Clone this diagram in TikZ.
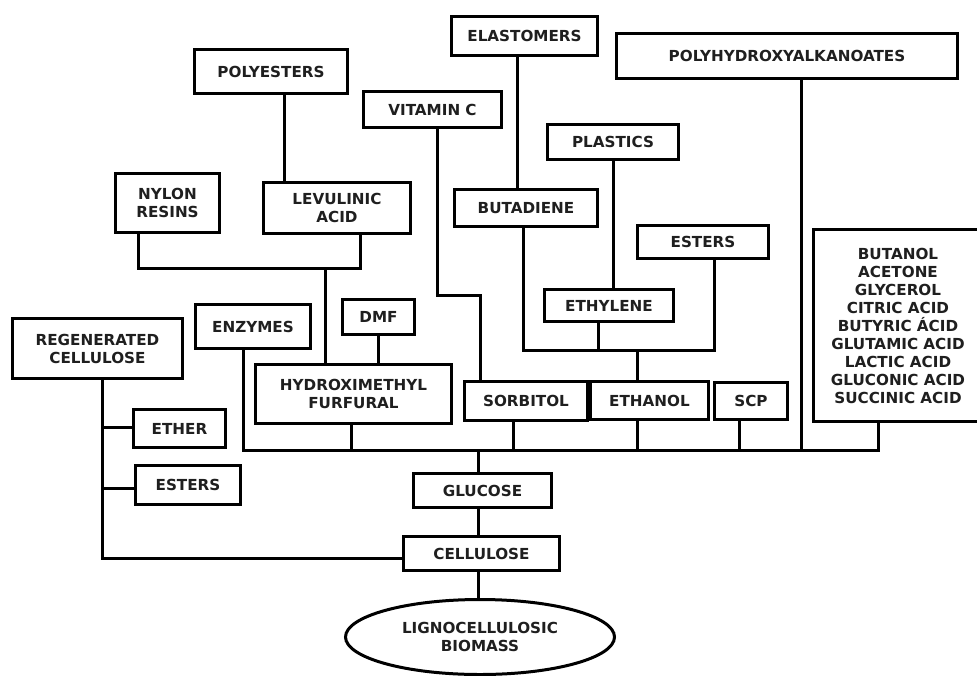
\documentclass[tikz,border=0pt]{standalone}
\usepackage{fontspec}
\setmainfont{DejaVu Sans}
\usetikzlibrary{shapes.geometric}
\newcommand\bxnode[6]{\node[box,minimum width={#4-#2-3},minimum height={#5-#3-3}] (#1) at ({(#2+#4)/2},{(#3+#5)/2}) {#6};}
\tikzset{
  box/.style={draw=black, line width=3pt, rectangle, inner sep=0pt, align=center,
    font=\fontsize{15.2}{18}\selectfont\bfseries, text=black!88},
  conn/.style={draw=black, line width=3pt}
}
\begin{document}
\begin{tikzpicture}[x=1pt,y=-1pt]
\useasboundingbox[fill=white] (0,0) rectangle (977,675);
% boxes
\bxnode{polyesters}{193}{48}{349}{95}{POLYESTERS}
\bxnode{vitc}{362}{90}{503}{129}{VITAMIN C}
\bxnode{elast}{450}{15}{599}{57}{ELASTOMERS}
\bxnode{pha}{615}{32}{959}{80}{POLYHYDROXYALKANOATES}
\bxnode{plastics}{546}{123}{680}{161}{PLASTICS}
\bxnode{nylon}{114}{172}{221}{234}{NYLON\\RESINS}
\bxnode{levul}{262}{181}{412}{235}{LEVULINIC\\ACID}
\bxnode{butad}{453}{188}{599}{228}{BUTADIENE}
\bxnode{estersR}{636}{224}{770}{260}{ESTERS}
\bxnode{bigbox}{812}{228}{984}{423}{BUTANOL\\ACETONE\\GLYCEROL\\CITRIC ACID\\BUTYRIC ÁCID\\GLUTAMIC ACID\\LACTIC ACID\\GLUCONIC ACID\\SUCCINIC ACID}
\bxnode{enzymes}{194}{303}{312}{350}{ENZYMES}
\bxnode{dmf}{341}{298}{416}{336}{DMF}
\bxnode{ethylene}{543}{288}{675}{323}{ETHYLENE}
\bxnode{regen}{11}{317}{184}{380}{REGENERATED\\CELLULOSE}
\bxnode{hmf}{254}{363}{453}{425}{HYDROXIMETHYL\\FURFURAL}
\bxnode{sorbitol}{463}{380}{589}{422}{SORBITOL}
\bxnode{ethanol}{589}{380}{710}{421}{ETHANOL}
\bxnode{scp}{713}{381}{789}{421}{SCP}
\bxnode{ether}{132}{408}{227}{449}{ETHER}
\bxnode{estersL}{134}{464}{242}{506}{ESTERS}
\bxnode{glucose}{412}{472}{553}{509}{GLUCOSE}
\bxnode{cellulose}{402}{535}{561}{572}{CELLULOSE}
\node[draw=black, line width=3pt, ellipse, inner sep=0pt, minimum width=269, minimum height=75, align=center,
  font=\fontsize{15.2}{18}\selectfont\bfseries, text=black!88] (biomass) at (480,637) {LIGNOCELLULOSIC\\BIOMASS};
% helper coordinates
\coordinate (xpoly) at (284,0);
\coordinate (xny) at (138,0);
\coordinate (xlev) at (360,0);
\coordinate (j1) at (325,268);
\coordinate (xvit) at (437,0);
\coordinate (j2) at (480,295);
\coordinate (xel) at (517,0);
\coordinate (xbu) at (523,0);
\coordinate (xes) at (714,0);
\coordinate (j3) at (637,350);
\coordinate (jeth) at (598,350);
\coordinate (xenz) at (243,0);
\coordinate (bus) at (478,450);
\coordinate (xbig) at (878,0);
\coordinate (xhmf) at (351,0);
\coordinate (xsor) at (513,0);
\coordinate (xetn) at (637,0);
\coordinate (xscp) at (739,0);
\coordinate (xpha) at (801,0);
\coordinate (xreg) at (102,0);
\coordinate (ycel) at (0,558);
\coordinate (yeth) at (0,427);
\coordinate (yest) at (0,488);
% connectors
\draw[conn] (polyesters.south -| xpoly) -- (levul.north -| xpoly);
\draw[conn] (nylon.south -| xny) |- (j1) -| (levul.south -| xlev);
\draw[conn] (j1) -- (hmf.north -| j1);
\draw[conn] (dmf.south) -- (dmf.south |- hmf.north);
\draw[conn] (vitc.south -| xvit) |- (j2) -- (j2 |- sorbitol.north);
\draw[conn] (elast.south -| xel) -- (butad.north -| xel);
\draw[conn] (plastics.south) -- (plastics.south |- ethylene.north);
\draw[conn] (butad.south -| xbu) |- (j3) -| (estersR.south -| xes);
\draw[conn] (ethylene.south -| jeth) -- (jeth);
\draw[conn] (j3) -- (j3 |- ethanol.north);
\draw[conn] (enzymes.south -| xenz) |- (bus) -| (bigbox.south -| xbig);
\draw[conn] (hmf.south -| xhmf) -- (bus -| xhmf);
\draw[conn] (sorbitol.south -| xsor) -- (bus -| xsor);
\draw[conn] (ethanol.south -| xetn) -- (bus -| xetn);
\draw[conn] (scp.south -| xscp) -- (bus -| xscp);
\draw[conn] (pha.south -| xpha) -- (bus -| xpha);
\draw[conn] (bus) -- (glucose.north -| bus);
\draw[conn] (glucose.south -| bus) -- (cellulose.north -| bus);
\draw[conn] (cellulose.south -| bus) -- (biomass.north -| bus);
\draw[conn] (regen.south -| xreg) |- (cellulose.west |- ycel);
\draw[conn] (ether.west |- yeth) -- (xreg |- yeth);
\draw[conn] (estersL.west |- yest) -- (xreg |- yest);
\end{tikzpicture}
\end{document}
